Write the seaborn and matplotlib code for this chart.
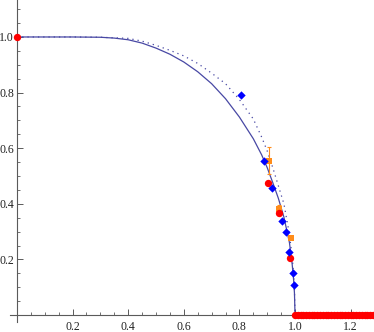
import matplotlib
matplotlib.use("Agg")
import matplotlib.pyplot as plt
import seaborn as sns
import pandas as pd
from matplotlib.ticker import FixedLocator, FormatStrFormatter

# ---- data ----
solid_x = [0.0, 0.10, 0.20, 0.30, 0.35, 0.40, 0.45, 0.50, 0.55, 0.60, 0.65, 0.70,
           0.75, 0.80, 0.85, 0.88, 0.90, 0.92, 0.94, 0.96, 0.98, 0.99, 0.995, 0.998, 1.0]
solid_y = [1.0, 1.0, 1.0, 0.999, 0.996, 0.990, 0.978, 0.960, 0.938, 0.910, 0.875, 0.832,
           0.778, 0.712, 0.634, 0.576, 0.530, 0.476, 0.420, 0.352, 0.260, 0.180, 0.125, 0.078, 0.0]

dotted_x = [0.0, 0.10, 0.20, 0.30, 0.40, 0.45, 0.50, 0.55, 0.60, 0.65, 0.70, 0.75,
            0.80, 0.85, 0.88, 0.90, 0.92, 0.94, 0.96, 0.98, 0.99, 0.995, 0.998, 1.0]
dotted_y = [1.0, 1.0, 1.0, 0.999, 0.995, 0.985, 0.970, 0.952, 0.932, 0.905, 0.870, 0.832,
            0.775, 0.705, 0.640, 0.590, 0.530, 0.465, 0.400, 0.290, 0.205, 0.145, 0.090, 0.0]

blue_x = [0.806, 0.888, 0.918, 0.952, 0.968, 0.980, 0.993, 0.997]
blue_y = [0.791, 0.555, 0.456, 0.338, 0.300, 0.225, 0.152, 0.108]

red_x = [0.0, 0.903, 0.942, 0.982]
red_y = [1.0, 0.476, 0.366, 0.204]

red0_x = [1.00, 1.01, 1.02, 1.03, 1.04, 1.05, 1.06, 1.07, 1.08, 1.09, 1.10,
          1.11, 1.12, 1.13, 1.14, 1.15, 1.16, 1.17, 1.18, 1.19, 1.20,
          1.21, 1.22, 1.23, 1.24, 1.25, 1.26, 1.27, 1.28, 1.29, 1.30]
red0_y = [0.0] * len(red0_x)

orange_x = [0.905, 0.942, 0.984]
orange_y = [0.555, 0.381, 0.276]
orange_err = [0.048, 0.015, 0.0]

xticks = [0.2, 0.4, 0.6, 0.8, 1.0, 1.2]
yticks = [0.2, 0.4, 0.6, 0.8, 1.0]

# ---- plotting ----
sns.set_style("white")
plt.rcParams['font.family'] = ['Liberation Serif', 'DejaVu Serif']

fig = plt.figure(figsize=(3.74, 3.32), dpi=100)
ax = fig.add_axes([0, 0, 1, 1])

line_col = "#4848a4"
sns.lineplot(x=solid_x, y=solid_y, ax=ax, color=line_col, lw=0.9,
             estimator=None, sort=False, zorder=2)
sns.lineplot(x=dotted_x, y=dotted_y, ax=ax, color=line_col, lw=0.9,
             estimator=None, sort=False, zorder=2, linestyle=(0, (1, 3.2)))

ax.errorbar(orange_x, orange_y, yerr=orange_err, fmt='none', ecolor="#ff8c1a",
            elinewidth=0.8, capsize=1.6, capthick=0.8, zorder=3)
sns.scatterplot(x=orange_x, y=orange_y, ax=ax, marker='s', s=20, color="#ff8c1a",
                linewidth=0, zorder=3)
sns.scatterplot(x=red0_x, y=red0_y, ax=ax, marker='o', s=28, color="#ff0000",
                linewidth=0, zorder=4, clip_on=False)
sns.scatterplot(x=red_x, y=red_y, ax=ax, marker='o', s=28, color="#ff0000",
                linewidth=0, zorder=4, clip_on=False)
sns.scatterplot(x=blue_x, y=blue_y, ax=ax, marker='D', s=18, color="#0000ff",
                linewidth=0, zorder=5)

ax.set_xlim(-0.061, 1.284)
ax.set_ylim(-0.061, 1.133)

for s in ['top', 'right']:
    ax.spines[s].set_visible(False)
ax.spines['left'].set_position(('data', 0))
ax.spines['bottom'].set_position(('data', 0))
ax.spines['left'].set_bounds(-0.025, 1.133)
ax.spines['bottom'].set_bounds(-0.025, 1.284)
for s in ['left', 'bottom']:
    ax.spines[s].set_color("#5a5a5a")
    ax.spines[s].set_linewidth(0.8)
    ax.spines[s].set_zorder(1)

ax.xaxis.set_major_locator(FixedLocator(xticks))
ax.yaxis.set_major_locator(FixedLocator(yticks))
ax.xaxis.set_minor_locator(FixedLocator([i * 0.05 for i in range(1, 26)]))
ax.yaxis.set_minor_locator(FixedLocator([i * 0.05 for i in range(1, 23)]))
ax.xaxis.set_major_formatter(FormatStrFormatter('%.1f'))
ax.yaxis.set_major_formatter(FormatStrFormatter('%.1f'))

ax.tick_params(axis='both', which='major', direction='in', length=4, width=0.7,
               color="#5a5a5a", labelsize=8.5, labelcolor="#222222")
ax.tick_params(axis='both', which='minor', direction='in', length=2.2, width=0.6,
               color="#5a5a5a")
ax.tick_params(axis='x', which='major', pad=4)
ax.tick_params(axis='y', which='major', pad=2)
ax.tick_params(bottom=True, left=True, which='both')

ax.grid(False)
ax.set_facecolor("white")
fig.savefig("out.png", dpi=100, facecolor="white")
